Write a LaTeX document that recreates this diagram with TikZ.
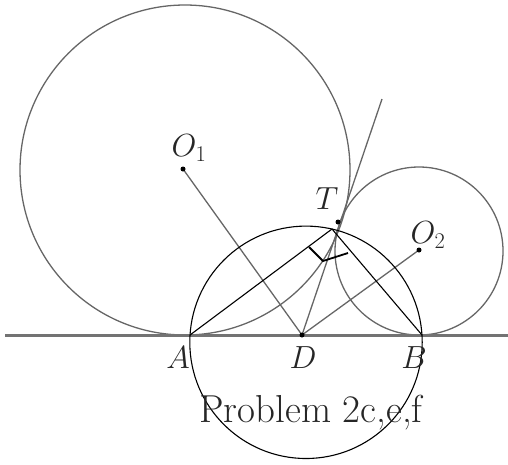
\RequirePackage{fix-cm}
\documentclass[tikz,border=0pt]{standalone}
\begin{document}
\begin{tikzpicture}[x=1pt,y=-1pt,
  greyline/.style={draw=black!60,line width=1.3pt},
  greybase/.style={draw=black!55,line width=2.4pt},
  blackline/.style={draw=black,line width=1.1pt},
  dotmark/.style={fill=black,circle,inner sep=0pt,minimum size=5pt},
  lbl/.style={font=\fontsize{32}{38}\selectfont,text=black!85,inner sep=0pt},
  caption/.style={font=\fontsize{39}{46}\selectfont,text=black!85,inner sep=0pt}]
\useasboundingbox (0,0) rectangle (508,464);
% points
\coordinate (O1) at (183,169);
\coordinate (O2) at (419,250);
\coordinate (D) at (302,335);
\coordinate (T) at (338,222);
\coordinate (Top) at (382,99);
\coordinate (L) at (5,335.5);
\coordinate (R) at (508,335.5);
\coordinate (A) at (190,335);
\coordinate (B) at (422,335);
\coordinate (Tb) at (332,229);
\coordinate (Ck) at (306,342.3);
\coordinate (M1) at (309,247);
\coordinate (M2) at (323,261);
\coordinate (M3) at (348,253);
% grey figure
\draw[greyline] (185,170) circle[radius=165];
\draw[greyline] (419,251) circle[radius=84];
\draw[greybase] (L) -- (R);
\draw[greyline] (O1) -- (D);
\draw[greyline] (O2) -- (D);
\draw[greyline] (D) -- (Top);
\node[dotmark] (dO1) at (O1) {};
\node[dotmark] (dO2) at (O2) {};
\node[dotmark] (dD) at (D) {};
\node[dotmark] (dT) at (T) {};
% black overlay
\draw[blackline] (Ck) circle[radius=116.2];
\draw[blackline] (A) -- (Tb) -- (B);
\draw[black,line width=1.8pt] (M1) -- (M2) -- (M3);
% labels
\node[lbl] (lO1) at (189,148) {$O_1$};
\node[lbl] (lO2) at (428,235) {$O_2$};
\node[lbl] (lT) at (327,199) {$T$};
\node[lbl] (lA) at (178,358) {$A$};
\node[lbl] (lD) at (303,358) {$D$};
\node[lbl] (lB) at (414,358) {$B$};
\node[caption] (cap) at (311,413) {Problem 2c,e,f};
\end{tikzpicture}
\end{document}
